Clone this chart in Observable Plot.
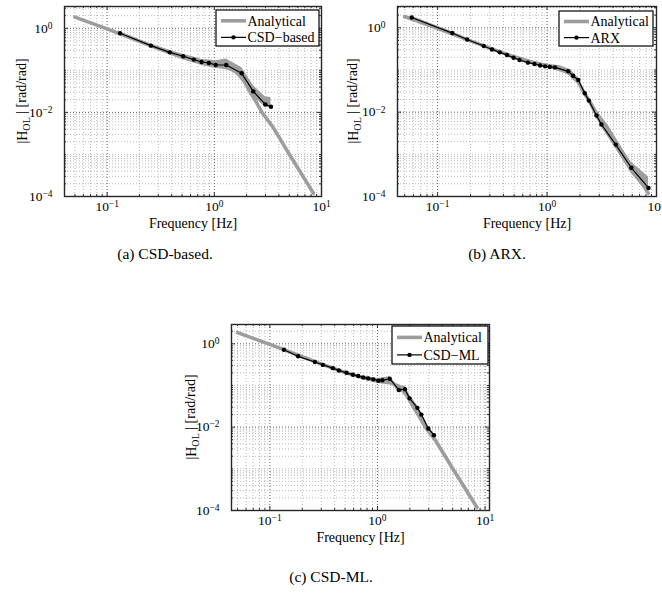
<!DOCTYPE html>
<html><head><meta charset="utf-8">
<script src="https://cdn.jsdelivr.net/npm/d3@7"></script>
<script src="https://cdn.jsdelivr.net/npm/@observablehq/plot@0.6"></script>
<style>
html,body{margin:0;padding:0;background:#fff;overflow:hidden;}
#root{position:relative;width:662px;height:596px;font-family:"Liberation Serif","Times New Roman",serif;color:#000;}
.panel{position:absolute;}
.cap{position:absolute;font-size:15.5px;transform:translateX(-50%);white-space:nowrap;line-height:18px;}
.leg{position:absolute;}
</style></head><body><div id="root"></div>
<script>
// Analytical open-loop magnitude
const anF = [0.05, 0.1, 0.2, 0.3, 0.5, 0.75, 1.0, 1.3, 1.6, 1.9, 2.2, 2.5, 2.8, 3.5, 5.0, 8.4];
const anH = [1.85, 0.97, 0.49, 0.33, 0.205, 0.15, 0.127, 0.117, 0.095, 0.055, 0.028, 0.0165, 0.0098, 0.0046, 0.00102, 1.2e-4];

// (a) CSD-based
const csdF  = [0.132, 0.256, 0.384, 0.512, 0.645, 0.76, 0.89, 1.03, 1.29, 1.80, 2.31, 2.99, 3.38];
const csdH  = [0.76, 0.387, 0.268, 0.216, 0.18, 0.158, 0.15, 0.134, 0.134, 0.085, 0.0316, 0.0155, 0.0136];
const csdHi = [0.833, 0.424, 0.301, 0.242, 0.207, 0.181, 0.176, 0.169, 0.185, 0.117, 0.0436, 0.0235, 0.0226];
const csdLo = [0.693, 0.353, 0.245, 0.197, 0.164, 0.144, 0.134, 0.119, 0.117, 0.0645, 0.024, 0.0132, 0.0127];

// (b) ARX
const arxF  = [0.058, 0.136, 0.186, 0.264, 0.314, 0.37, 0.43, 0.494, 0.56, 0.668, 0.767, 0.864, 0.96, 1.06, 1.18, 1.56, 1.73, 1.93, 2.21, 2.41, 2.83, 3.14, 4.24, 5.89, 8.45];
const arxH  = [1.75, 0.75, 0.53, 0.37, 0.307, 0.262, 0.226, 0.195, 0.172, 0.149, 0.139, 0.128, 0.122, 0.118, 0.115, 0.093, 0.073, 0.058, 0.028, 0.0188, 0.0083, 0.0051, 0.0017, 4.8e-4, 1.6e-4];
const arxHi = [1.876, 0.804, 0.568, 0.397, 0.329, 0.281, 0.242, 0.209, 0.184, 0.160, 0.149, 0.137, 0.131, 0.126, 0.126, 0.104, 0.082, 0.065, 0.0314, 0.0211, 0.0095, 0.00585, 0.00214, 6.5e-4, 2.9e-4];
const arxLo = [1.632, 0.70, 0.494, 0.345, 0.286, 0.244, 0.211, 0.182, 0.160, 0.139, 0.130, 0.119, 0.114, 0.108, 0.100, 0.0775, 0.058, 0.046, 0.0233, 0.016, 0.0072, 0.00444, 0.00135, 3.5e-4, 1.16e-4];

// (c) CSD-ML
const mlF  = [0.135, 0.183, 0.262, 0.311, 0.385, 0.438, 0.516, 0.592, 0.663, 0.738, 0.82, 0.914, 1.02, 1.11, 1.30, 1.58, 1.80, 1.99, 2.35, 2.56, 2.97, 3.35];
const mlH  = [0.72, 0.50, 0.366, 0.311, 0.26, 0.229, 0.201, 0.18, 0.168, 0.156, 0.148, 0.14, 0.13, 0.133, 0.145, 0.078, 0.081, 0.049, 0.029, 0.020, 0.0093, 0.0064];
const mlHi = [0.772, 0.536, 0.392, 0.333, 0.279, 0.245, 0.215, 0.193, 0.180, 0.167, 0.162, 0.153, 0.146, 0.153, 0.162, 0.094, 0.097, 0.059, 0.033, 0.0224, 0.0102, 0.0070];
const mlLo = [0.672, 0.466, 0.341, 0.29, 0.243, 0.214, 0.1875, 0.168, 0.157, 0.1455, 0.138, 0.1306, 0.121, 0.121, 0.126, 0.068, 0.0675, 0.0426, 0.0259, 0.0182, 0.0086, 0.0059];

// Ticks / labels
const xTickVals = [0.1, 1, 10];
const yTickVals = [1e-4, 1e-2, 1];
const seriesNames = ["Analytical", "CSD\u2212based", "ARX", "CSD\u2212ML"];
const captions = ["(a) CSD-based.", "(b) ARX.", "(c) CSD-ML."];
const xLabel = "Frequency [Hz]";

const FONT = '"Liberation Serif","Times New Roman",serif';
const GRAY = "#9d9d9d";

function logTicks(lo, hi) {
  const out = [];
  for (let e = Math.floor(Math.log10(lo)); e <= Math.ceil(Math.log10(hi)); e++)
    for (let m = 1; m < 10; m++) {
      const v = +(m * Math.pow(10, e)).toPrecision(6);
      if (v >= lo * 0.9999 && v <= hi * 1.0001) out.push(v);
    }
  return out;
}
function fmt(d) {
  const e = Math.round(Math.log10(d));
  return "10^" + (e < 0 ? "\u2212" + (-e) : String(e));
}

function makePanel(p) {
  const fw = p.width - p.mL - p.mR, fh = p.height - p.mT - p.mB;
  const est = p.f.map((f, i) => ({f, h: p.h[i], lo: p.lo[i], hi: p.hi[i]}));
  const an = anF.map((f, i) => ({f, h: anH[i]}));
  const isMaj = (arr) => (v) => arr.some(t => Math.abs(t - v) / t < 1e-6);
  const xAll = logTicks(p.xDomain[0], p.xDomain[1]);
  const yAll = logTicks(p.yDomain[0], p.yDomain[1]);
  const xMajor = xTickVals.filter(v => v >= p.xDomain[0] && v <= p.xDomain[1] * 1.0001);
  const yMajor = yTickVals.filter(v => v >= p.yDomain[0] * 0.9999 && v <= p.yDomain[1]);
  const xMinor = xAll.filter(v => !isMaj(xMajor)(v));
  const yMinor = yAll.filter(v => !isMaj(yMajor)(v));
  const gridMinor = {stroke: "#a8a8a8", strokeWidth: 0.8, strokeDasharray: "1,2"};
  const gridMajor = {stroke: "#555", strokeWidth: 0.9, strokeDasharray: "1,2"};
  const tk = {stroke: "#333", strokeWidth: 1};
  const svg = Plot.plot({
    width: p.width, height: p.height,
    marginLeft: p.mL, marginTop: p.mT, marginRight: p.mR, marginBottom: p.mB,
    style: {fontFamily: FONT, background: "transparent", overflow: "visible", color: "#000"},
    x: {type: "log", domain: p.xDomain},
    y: {type: "log", domain: p.yDomain},
    marks: [
      Plot.ruleX(xMinor, gridMinor),
      Plot.ruleY(yMinor, gridMinor),
      Plot.ruleX(xMajor, gridMajor),
      Plot.ruleY(yMajor, gridMajor),
      Plot.areaY(est, {x: "f", y1: "lo", y2: "hi", fill: GRAY, curve: "linear"}),
      Plot.line(an, {x: "f", y: "h", stroke: GRAY, strokeWidth: 3.6}),
      Plot.line(est, {x: "f", y: "h", stroke: "#000", strokeWidth: 1.2}),
      Plot.dot(est, {x: "f", y: "h", r: 2.2, fill: "#000", stroke: "none"}),
      // inward ticks (major + minor) on all four sides
      Plot.ruleX(xMajor, {...tk, insetTop: fh - 4}),
      Plot.ruleX(xMajor, {...tk, insetBottom: fh - 4}),
      Plot.ruleY(yMajor, {...tk, insetRight: fw - 4}),
      Plot.ruleY(yMajor, {...tk, insetLeft: fw - 4}),
      Plot.ruleX(xMinor, {...tk, insetTop: fh - 2}),
      Plot.ruleX(xMinor, {...tk, insetBottom: fh - 2}),
      Plot.ruleY(yMinor, {...tk, insetRight: fw - 2}),
      Plot.ruleY(yMinor, {...tk, insetLeft: fw - 2}),
      Plot.frame({stroke: "#262626", strokeWidth: 1.4}),
      Plot.axisX({ticks: xMajor, tickSize: 0, tickPadding: 5, tickFormat: fmt, fontSize: 13.5, label: null}),
      Plot.axisY({ticks: yMajor, tickSize: 0, tickPadding: 12, tickFormat: fmt, fontSize: 13.5, label: null}),
      Plot.text([xLabel], {text: d => d, frameAnchor: "bottom", dy: 31, fontSize: 14})
    ]
  });
  // superscripts for tick labels
  d3.select(svg).selectAll("text").each(function () {
    const t = this.textContent;
    if (t.indexOf("^") >= 0 && this.children.length === 0) {
      const [base, sup] = t.split("^");
      const sel = d3.select(this);
      sel.text(base);
      sel.append("tspan").attr("dy", "-0.42em").attr("font-size", "0.7em").text(sup);
    }
  });
  // y label with subscript
  const ylab = d3.select(svg).append("text")
    .attr("transform", `translate(${p.mL - p.yLabOff},${p.mT + fh / 2}) rotate(-90)`)
    .attr("text-anchor", "middle").attr("dy", "0.35em")
    .attr("font-size", 14).attr("font-family", FONT).attr("fill", "#000");
  ylab.append("tspan").text("|H");
  ylab.append("tspan").attr("dy", "0.3em").attr("font-size", "0.72em").text("OL");
  ylab.append("tspan").attr("dy", "-0.3em").text(" | [rad/rad]");
  svg.classList.add("panel");
  svg.style.left = p.left + "px";
  svg.style.top = p.top + "px";
  return svg;
}

function makeLegend(x, y, w, h, name) {
  const s = d3.create("svg").attr("class", "leg").attr("width", w + 2).attr("height", h + 2)
    .style("left", (x - 1) + "px").style("top", (y - 1) + "px").style("position", "absolute");
  s.append("rect").attr("x", 1).attr("y", 1).attr("width", w).attr("height", h)
    .attr("fill", "#fff").attr("stroke", "#000").attr("stroke-width", 1.2);
  const r1 = 1 + h * 0.3, r2 = 1 + h * 0.76;
  s.append("line").attr("x1", 6).attr("x2", 31).attr("y1", r1).attr("y2", r1)
    .attr("stroke", GRAY).attr("stroke-width", 3.6);
  s.append("line").attr("x1", 6).attr("x2", 31).attr("y1", r2).attr("y2", r2)
    .attr("stroke", "#000").attr("stroke-width", 1.2);
  s.append("circle").attr("cx", 18.5).attr("cy", r2).attr("r", 2.2).attr("fill", "#000");
  s.append("text").attr("x", 32.5).attr("y", r1).attr("dy", "0.35em").attr("font-size", 14)
    .attr("font-family", FONT).text(seriesNames[0]);
  s.append("text").attr("x", 32.5).attr("y", r2).attr("dy", "0.35em").attr("font-size", 14)
    .attr("font-family", FONT).text(name);
  return s.node();
}

const root = document.getElementById("root");
root.appendChild(makePanel({left: 0, top: 0, width: 331, height: 240, mL: 64, mT: 6, mR: 10, mB: 44,
  xDomain: [0.04, 10], yDomain: [1e-4, 3.3], f: csdF, h: csdH, lo: csdLo, hi: csdHi, yLabOff: 42}));
root.appendChild(makePanel({left: 331, top: 0, width: 331, height: 240, mL: 66, mT: 6, mR: 6, mB: 44,
  xDomain: [0.043, 10], yDomain: [1e-4, 3.2], f: arxF, h: arxH, lo: arxLo, hi: arxHi, yLabOff: 44}));
root.appendChild(makePanel({left: 165, top: 318, width: 331, height: 240, mL: 66, mT: 6, mR: 7, mB: 48,
  xDomain: [0.044, 11], yDomain: [1e-4, 2.9], f: mlF, h: mlH, lo: mlLo, hi: mlHi, yLabOff: 40}));

root.appendChild(makeLegend(216, 10, 103, 36, seriesNames[1]));
root.appendChild(makeLegend(559, 11, 94, 35, seriesNames[2]));
root.appendChild(makeLegend(392, 326, 96, 38, seriesNames[3]));

[[165, 245, captions[0]], [497, 245, captions[1]], [331, 568, captions[2]]].forEach(([x, y, t]) => {
  const d = document.createElement("div");
  d.className = "cap"; d.style.left = x + "px"; d.style.top = y + "px"; d.textContent = t;
  root.appendChild(d);
});
</script></body></html>
